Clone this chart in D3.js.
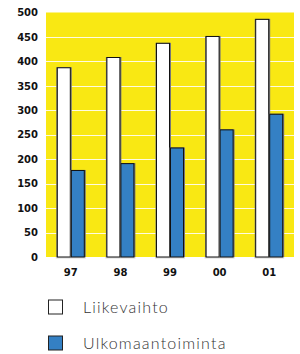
<!DOCTYPE html>
<html>
<head>
<meta charset="utf-8">
<script src="https://cdn.jsdelivr.net/npm/d3@7"></script>
<style>
  body { margin: 0; background: #fff; }
  svg { display: block; }
</style>
</head>
<body>
<div id="chart"></div>
<script>
var years = ['97', '98', '99', '00', '01'];
var liikevaihto = [388, 409, 438, 452, 487];
var ulkomaantoiminta = [178, 192, 224, 261, 293];
var yTicks = [0, 50, 100, 150, 200, 250, 300, 350, 400, 450, 500];
var seriesNames = ['Liikevaihto', 'Ulkomaantoiminta'];
var seriesColors = ['#ffffff', '#3480c4'];

var width = 300, height = 354;
var plotLeft = 46, plotRight = 294, plotTop = 12.5, plotBottom = 257;

var svg = d3.select('#chart').append('svg')
    .attr('width', width)
    .attr('height', height);

var x0 = d3.scaleBand().domain(years).range([plotLeft, plotRight]).padding(0);
var groupWidth = 28;
var x1 = d3.scaleBand().domain(seriesNames).range([0, groupWidth]).padding(0);
var y = d3.scaleLinear().domain([0, 500]).range([plotBottom, plotTop]);

// yellow plot background
svg.append('rect')
    .attr('x', plotLeft)
    .attr('y', plotTop)
    .attr('width', plotRight - plotLeft)
    .attr('height', plotBottom - plotTop)
    .attr('fill', '#f9e813');

// white gridlines
svg.selectAll('line.grid')
    .data(yTicks.filter(function(d) { return d > 0 && d < 500; })).enter()
    .append('line')
    .attr('class', 'grid')
    .attr('x1', plotLeft)
    .attr('x2', plotRight)
    .attr('y1', function(d) { return Math.round(y(d)) + 0.5; })
    .attr('y2', function(d) { return Math.round(y(d)) + 0.5; })
    .attr('stroke', '#fffbe0')
    .attr('stroke-width', 1);

// y axis labels
var yAxis = d3.axisLeft(y).tickValues(yTicks).tickSize(0).tickPadding(8);
var gy = svg.append('g')
    .attr('transform', 'translate(' + plotLeft + ',0)')
    .call(yAxis);
gy.select('.domain').remove();
gy.selectAll('text')
    .attr('font-family', '"DejaVu Sans", sans-serif')
    .attr('font-weight', 'bold')
    .attr('font-size', '10px')
    .attr('fill', '#111');

// x axis labels
var xAxis = d3.axisBottom(x0).tickSize(0).tickPadding(12);
var gx = svg.append('g')
    .attr('transform', 'translate(0,' + plotBottom + ')')
    .call(xAxis);
gx.select('.domain').remove();
gx.selectAll('text')
    .attr('font-family', '"DejaVu Sans", sans-serif')
    .attr('font-weight', 'bold')
    .attr('font-size', '10px')
    .attr('fill', '#111');

var rows = years.map(function(yr, i) {
    return { year: yr, values: [liikevaihto[i], ulkomaantoiminta[i]] };
});

var groups = svg.selectAll('g.group')
    .data(rows).enter()
    .append('g')
    .attr('class', 'group')
    .attr('transform', function(d) {
        return 'translate(' + (x0(d.year) + (x0.bandwidth() - groupWidth) / 2) + ',0)';
    });

// light base under each group
groups.append('rect')
    .attr('x', -1)
    .attr('y', plotBottom)
    .attr('width', groupWidth + 2)
    .attr('height', 1.5)
    .attr('fill', '#d8d8d8');

var bars = groups.selectAll('g.bar')
    .data(function(d) {
        return d.values.map(function(v, i) { return { name: seriesNames[i], value: v, color: seriesColors[i] }; });
    }).enter()
    .append('g')
    .attr('class', 'bar');

// soft grey shadow
bars.append('rect')
    .attr('x', function(d) { return x1(d.name) - 0.5; })
    .attr('y', function(d) { return y(d.value); })
    .attr('width', x1.bandwidth() + 1.5)
    .attr('height', function(d) { return plotBottom - y(d.value); })
    .attr('fill', '#777');

bars.append('rect')
    .attr('x', function(d) { return x1(d.name) + 0.5; })
    .attr('y', function(d) { return y(d.value) + 0.5; })
    .attr('width', x1.bandwidth() - 1)
    .attr('height', function(d) { return plotBottom - y(d.value) - 0.5; })
    .attr('fill', function(d) { return d.color; })
    .attr('stroke', '#111')
    .attr('stroke-width', 1);

// legend
var legend = svg.selectAll('g.legend')
    .data(seriesNames).enter()
    .append('g')
    .attr('class', 'legend')
    .attr('transform', function(d, i) { return 'translate(48,' + (299.5 + i * 36) + ')'; });

legend.append('rect')
    .attr('x', 0.5)
    .attr('y', 0.5)
    .attr('width', 14)
    .attr('height', 14)
    .attr('fill', function(d, i) { return seriesColors[i]; })
    .attr('stroke', '#222')
    .attr('stroke-width', 1);

legend.append('text')
    .attr('x', 35)
    .attr('y', 13.5)
    .attr('font-family', 'Lato, sans-serif')
    .attr('font-weight', 300)
    .attr('font-size', '16px')
    .attr('letter-spacing', '1.2px')
    .attr('fill', '#333')
    .text(function(d) { return d; });
</script>
</body>
</html>
